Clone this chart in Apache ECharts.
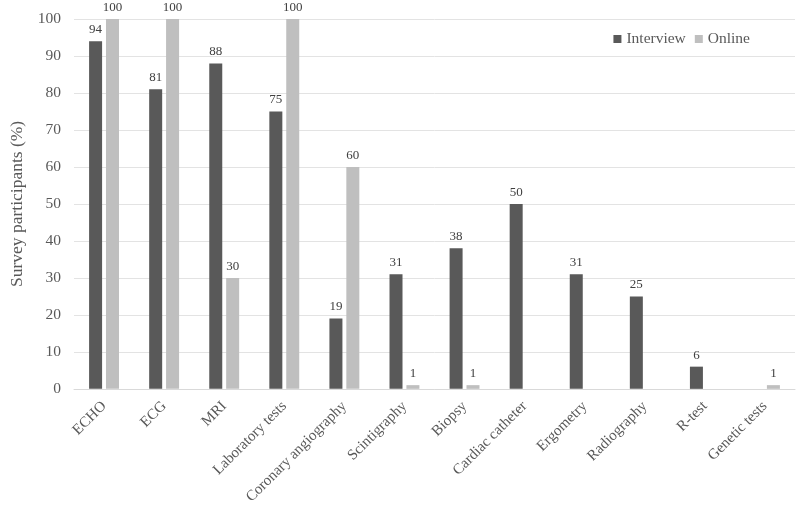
<!DOCTYPE html>
<html>
<head>
<meta charset="utf-8">
<script src="https://cdn.jsdelivr.net/npm/echarts@6/dist/echarts.min.js"></script>
<style>
  html, body { margin: 0; padding: 0; background: #fff; }
  #main { width: 797px; height: 507px; }
</style>
</head>
<body>
<div id="main"></div>
<script>
var categories = ['ECHO', 'ECG', 'MRI', 'Laboratory tests', 'Coronary angiography', 'Scintigraphy',
  'Biopsy', 'Cardiac catheter', 'Ergometry', 'Radiography', 'R-test', 'Genetic tests'];
var interview = [94, 81, 88, 75, 19, 31, 38, 50, 31, 25, 6, 0];
var online = [100, 100, 30, 100, 60, 1, 1, 0, 0, 0, 0, 1];

var chartDom = document.getElementById('main');
var myChart = echarts.init(chartDom);
var option;

var font = 'Liberation Serif';

// hide labels of empty bars
function labelFmt(p) {
  return p.value === 0 ? '' : p.value;
}

option = {
  textStyle: { fontFamily: font },
  legend: {
    data: ['Interview', 'Online'],
    icon: 'rect',
    right: 42,
    top: 26,
    itemWidth: 8,
    itemHeight: 8,
    itemGap: 9,
    textStyle: { fontFamily: font, fontSize: 15.5, color: '#595959' }
  },
  grid: {
    left: 67,
    right: 2,
    top: 19,
    bottom: 116
  },
  xAxis: {
    type: 'category',
    data: categories,
    axisLine: { lineStyle: { color: '#d9d9d9' } },
    axisTick: { show: false },
    axisLabel: {
      rotate: 45,
      interval: 0,
      margin: 15,
      fontFamily: font,
      fontSize: 15,
      color: '#595959'
    }
  },
  yAxis: {
    type: 'value',
    min: 0,
    max: 100,
    interval: 10,
    name: 'Survey participants (%)',
    nameLocation: 'middle',
    nameGap: 48,
    nameTextStyle: { fontFamily: font, fontSize: 17.5, color: '#595959' },
    axisLine: { show: false },
    axisTick: { show: false },
    axisLabel: { fontFamily: font, fontSize: 15.5, color: '#595959', margin: 13 },
    splitLine: { lineStyle: { color: '#e3e3e3' } }
  },
  series: [
    {
      name: 'Interview',
      type: 'bar',
      data: interview,
      barWidth: 13,
      barGap: '30%',
      itemStyle: { color: '#595959' },
      label: {
        show: true,
        position: 'top',
        formatter: labelFmt,
        fontFamily: font,
        fontSize: 13,
        color: '#404040'
      }
    },
    {
      name: 'Online',
      type: 'bar',
      data: online,
      barWidth: 13,
      itemStyle: { color: '#bfbfbf' },
      label: {
        show: true,
        position: 'top',
        formatter: labelFmt,
        fontFamily: font,
        fontSize: 13,
        color: '#404040'
      }
    }
  ]
};

option && myChart.setOption(option);
</script>
</body>
</html>
